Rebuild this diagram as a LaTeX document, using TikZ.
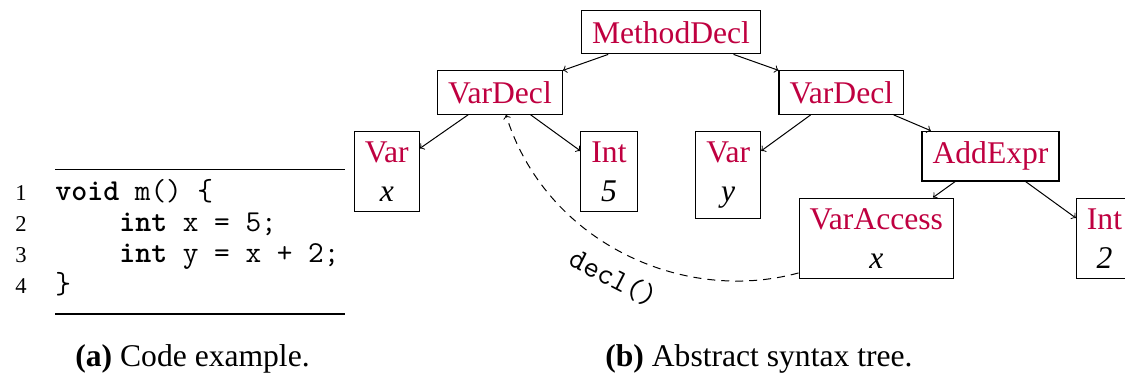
\documentclass[tikz,border=0pt]{standalone}
\usepackage{fontspec}
\setmainfont{Liberation Serif}
\usetikzlibrary{calc}
\newcommand\astlabel[1]{\textcolor{purple}{#1}}
\begin{document}
\begin{tikzpicture}[x=0.5pt,y=-0.5pt,
  tn/.style={draw, line width=0.55pt, align=center, anchor=north,
    font=\fontsize{15.8}{19.3}\selectfont, inner sep=5.27pt},
  treeedge/.style={->, line width=0.5pt},
  refedge/.style={->, line width=0.5pt, dash pattern=on 4pt off 3pt},
  codeline/.style={inner sep=0pt, anchor=base west, font=\fontsize{15.2}{18}\ttfamily},
  lineno/.style={inner sep=0pt, anchor=base east, font=\fontsize{11.3}{13}\selectfont},
  capt/.style={inner sep=0pt, anchor=base west, font=\fontsize{15.8}{19}\selectfont},
  rulestyle/.style={line width=0.65pt}]
\useasboundingbox (0,0) rectangle (1125,376);
\clip (0,0) rectangle (1125,376);

% code listing
\coordinate (rt1) at (55,169.3);
\coordinate (rt2) at (345,169.3);
\coordinate (rb1) at (55,314);
\coordinate (rb2) at (345,314);
\draw[rulestyle] (rt1) -- (rt2);
\draw[rulestyle] (rb1) -- (rb2);
\node[lineno] (ln1) at (27,200) {1};
\node[lineno] (ln2) at (27,231.5) {2};
\node[lineno] (ln3) at (27,262.5) {3};
\node[lineno] (ln4) at (27,293.5) {4};
\node[codeline] (cl1) at (55,200) {\textbf{void} m() \{};
\node[codeline] (cl2) at (119,231.5) {\textbf{int} x = 5;};
\node[codeline] (cl3) at (119,262.5) {\textbf{int} y = x + 2;};
\node[codeline] (cl4) at (55,293.5) {\}};

% tree
\node[tn] (md) at (671,10) {\astlabel{MethodDecl}};
\node[tn] (vd1) at (500,70.3) {\astlabel{VarDecl}};
\node[tn] (vd2) at (841.3,70.3) {\astlabel{VarDecl}};
\node[tn] (vx) at (386.8,130.7) {\astlabel{Var}\\\textit{x}};
\node[tn] (i5) at (609,130.7) {\astlabel{Int}\\\textit{5}};
\node[tn] (vy) at (728.2,130.7) {\astlabel{Var}\\\textit{y}};
\node[tn] (add) at (990.5,130.7) {\astlabel{AddExpr}};
\node[tn] (va) at (876.3,197.5) {\astlabel{VarAccess}\\\textit{x}};
\node[tn] (i2) at (1104.5,198) {\astlabel{Int}\\\textit{2}};

\draw[treeedge] (md) -- (vd1);
\draw[treeedge] (md) -- (vd2);
\draw[treeedge] (vd1) -- (vx);
\draw[treeedge] (vd1) -- (i5);
\draw[treeedge] (vd2) -- (vy);
\draw[treeedge] (vd2) -- (add);
\draw[treeedge] (add) -- (va);
\draw[treeedge] (add) -- (i2);

\draw[refedge] (va.204) .. controls (680,305) and (545,240) .. (vd1.-75);
\node[rotate=-27, inner sep=0pt, font=\fontsize{15.2}{18}\ttfamily] (decl) at (614,278) {decl()};

% captions
\node[capt] (capa) at (75,366) {\textbf{(a)} Code example.};
\node[capt] (capb) at (605,366) {\textbf{(b)} Abstract syntax tree.};
\end{tikzpicture}
\end{document}
